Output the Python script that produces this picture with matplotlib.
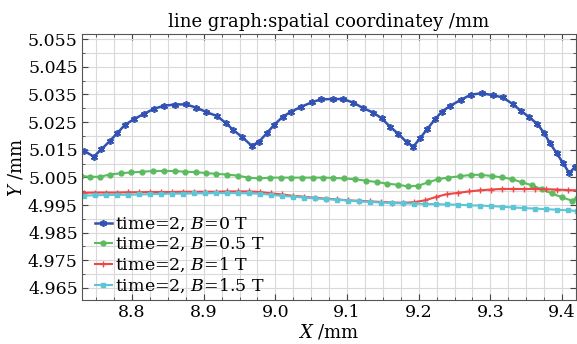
import matplotlib
matplotlib.use("Agg")
import matplotlib.pyplot as plt
from matplotlib.ticker import MultipleLocator, FixedLocator

plt.rcParams["font.family"] = ["DejaVu Serif"]
plt.rcParams["mathtext.fontset"] = "dejavuserif"

# B = 0 T (blue, asterisk markers)
x_b0 = [8.7330, 8.7466, 8.7572, 8.7689, 8.7791, 8.7898, 8.8024, 8.8163, 8.8307, 8.8446,
        8.8596, 8.8749, 8.8897, 8.9037, 8.9182, 8.9307, 8.9413, 8.9539, 8.9670, 8.9772,
        8.9879, 8.9981, 9.0103, 9.0218, 9.0358, 9.0507, 9.0633, 9.0800, 9.0948, 9.1088,
        9.1227, 9.1367, 9.1484, 9.1600, 9.1716, 9.1833, 9.1925, 9.2018, 9.2120, 9.2228,
        9.2321, 9.2437, 9.2586, 9.2730, 9.2879, 9.3033, 9.3172, 9.3312, 9.3423, 9.3544,
        9.3655, 9.3753, 9.3832, 9.3926, 9.4010, 9.4102, 9.4181]
y_b0 = [5.0146, 5.0125, 5.0151, 5.0181, 5.0209, 5.0239, 5.0260, 5.0279, 5.0298, 5.0309,
        5.0313, 5.0314, 5.0302, 5.0286, 5.0272, 5.0247, 5.0221, 5.0195, 5.0164, 5.0179,
        5.0209, 5.0239, 5.0269, 5.0287, 5.0305, 5.0321, 5.0332, 5.0333, 5.0333, 5.0320,
        5.0300, 5.0284, 5.0263, 5.0233, 5.0207, 5.0177, 5.0161, 5.0191, 5.0225, 5.0260,
        5.0287, 5.0308, 5.0330, 5.0349, 5.0354, 5.0347, 5.0339, 5.0315, 5.0291, 5.0267,
        5.0243, 5.0209, 5.0173, 5.0137, 5.0103, 5.0065, 5.0088]

# B = 0.5 T (green, circles)
x_b05 = [8.7284, 8.7410, 8.7549, 8.7689, 8.7851, 8.7990, 8.8140, 8.8293, 8.8446, 8.8596,
         8.8744, 8.8897, 8.9037, 8.9172, 8.9321, 8.9475, 8.9623, 8.9776, 8.9926, 9.0079,
         9.0218, 9.0368, 9.0521, 9.0665, 9.0809, 9.0958, 9.1112, 9.1265, 9.1414, 9.1562,
         9.1716, 9.1855, 9.1995, 9.2134, 9.2274, 9.2413, 9.2577, 9.2726, 9.2865, 9.3019,
         9.3158, 9.3298, 9.3437, 9.3577, 9.3716, 9.3856, 9.3995, 9.4135, 9.4205]
y_b05 = [5.0055, 5.0052, 5.0052, 5.0060, 5.0065, 5.0068, 5.0070, 5.0073, 5.0073, 5.0073,
         5.0070, 5.0069, 5.0065, 5.0063, 5.0060, 5.0056, 5.0049, 5.0046, 5.0049, 5.0049,
         5.0049, 5.0049, 5.0049, 5.0049, 5.0048, 5.0046, 5.0043, 5.0038, 5.0033, 5.0027,
         5.0023, 5.0017, 5.0020, 5.0032, 5.0044, 5.0049, 5.0054, 5.0059, 5.0059, 5.0055,
         5.0050, 5.0044, 5.0032, 5.0022, 5.0007, 4.9992, 4.9978, 4.9966, 4.9975]

# B = 1 T and B = 1.5 T share the same sampling
x_b1 = [8.733, 8.748, 8.764, 8.779, 8.794, 8.810, 8.825, 8.840, 8.856, 8.871,
        8.886, 8.902, 8.917, 8.932, 8.948, 8.963, 8.978, 8.994, 9.009, 9.025,
        9.040, 9.055, 9.071, 9.086, 9.101, 9.117, 9.132, 9.147, 9.163, 9.178,
        9.193, 9.209, 9.224, 9.239, 9.255, 9.270, 9.285, 9.301, 9.316, 9.331,
        9.347, 9.362, 9.377, 9.393, 9.408, 9.421]
y_b1 = [4.9994, 4.9995, 4.9995, 4.9995, 4.9996, 4.9996, 4.9997, 4.9997, 4.9997, 4.9998,
        4.9998, 4.9998, 4.9998, 4.9999, 4.9999, 4.9999, 4.9997, 4.9992, 4.9988, 4.9983,
        4.9980, 4.9976, 4.9973, 4.9970, 4.9967, 4.9965, 4.9963, 4.9961, 4.9959, 4.9958,
        4.9960, 4.9967, 4.9979, 4.9989, 4.9994, 4.9999, 5.0003, 5.0006, 5.0008, 5.0008,
        5.0008, 5.0008, 5.0007, 5.0006, 5.0004, 5.0003]
x_b15 = x_b1
y_b15 = [4.9984, 4.9985, 4.9986, 4.9987, 4.9987, 4.9988, 4.9989, 4.9990, 4.9991, 4.9991,
         4.9992, 4.9992, 4.9993, 4.9993, 4.9993, 4.9992, 4.9991, 4.9987, 4.9983, 4.9980,
         4.9977, 4.9974, 4.9971, 4.9969, 4.9966, 4.9963, 4.9961, 4.9959, 4.9957, 4.9956,
         4.9955, 4.9954, 4.9953, 4.9952, 4.9951, 4.9949, 4.9948, 4.9946, 4.9944, 4.9941,
         4.9939, 4.9937, 4.9935, 4.9933, 4.9931, 4.9928]

labels = [r"time=2, $B$=0 T", r"time=2, $B$=0.5 T", r"time=2, $B$=1 T", r"time=2, $B$=1.5 T"]
y_ticks = [4.965, 4.975, 4.985, 4.995, 5.005, 5.015, 5.025, 5.035, 5.045, 5.055]
x_ticks = [8.8, 8.9, 9.0, 9.1, 9.2, 9.3, 9.4]

fig = plt.figure(figsize=(5.77, 3.44), dpi=100)
ax = fig.add_axes([0.1421, 0.128, 0.8562, 0.773])

ax.plot(x_b0, y_b0, color="#3152b2", lw=1.8, marker=(6, 2, 0), ms=5, mew=1.2, label=labels[0])
ax.plot(x_b05, y_b05, color="#5cbb60", lw=1.5, marker="o", ms=3.5, label=labels[1])
ax.plot(x_b1, y_b1, color="#f04646", lw=1.5, marker="+", ms=4, mew=1.0, label=labels[2])
ax.plot(x_b15, y_b15, color="#5cc6d6", lw=1.5, marker="s", ms=2.5, label=labels[3])

ax.set_xlim(8.7302, 9.4195)
ax.set_ylim(4.96067, 5.0568)
ax.xaxis.set_major_locator(FixedLocator(x_ticks))
ax.xaxis.set_minor_locator(MultipleLocator(0.025))
ax.yaxis.set_major_locator(FixedLocator(y_ticks))
ax.yaxis.set_minor_locator(MultipleLocator(0.005))
ax.set_xticklabels([f"{v:.1f}" for v in x_ticks])
ax.set_yticklabels([f"{v:.3f}" for v in y_ticks])
ax.tick_params(which="both", direction="in", top=True, right=True, labelsize=12.5,
               color="#444444")
ax.tick_params(which="major", length=4, width=0.8, pad=3)
ax.tick_params(which="minor", length=2.5, width=0.6)
ax.grid(which="both", color="#d9d9d9", lw=0.8)
ax.set_axisbelow(True)
for s in ax.spines.values():
    s.set_color("#555555")
    s.set_linewidth(0.8)

ax.set_title("line graph:spatial coordinatey /mm", fontsize=13, pad=5)
ax.set_xlabel(r"$X$ /mm", fontsize=13, labelpad=1)
ax.set_ylabel(r"$Y$ /mm", fontsize=13, labelpad=2)

ax.legend(loc="lower left", bbox_to_anchor=(0.015, 0.0), frameon=False, fontsize=12.5,
          handlelength=1.0, handletextpad=0.15, labelspacing=0.15, borderaxespad=0.1,
          borderpad=0.2)

fig.savefig("out.png", dpi=100)
